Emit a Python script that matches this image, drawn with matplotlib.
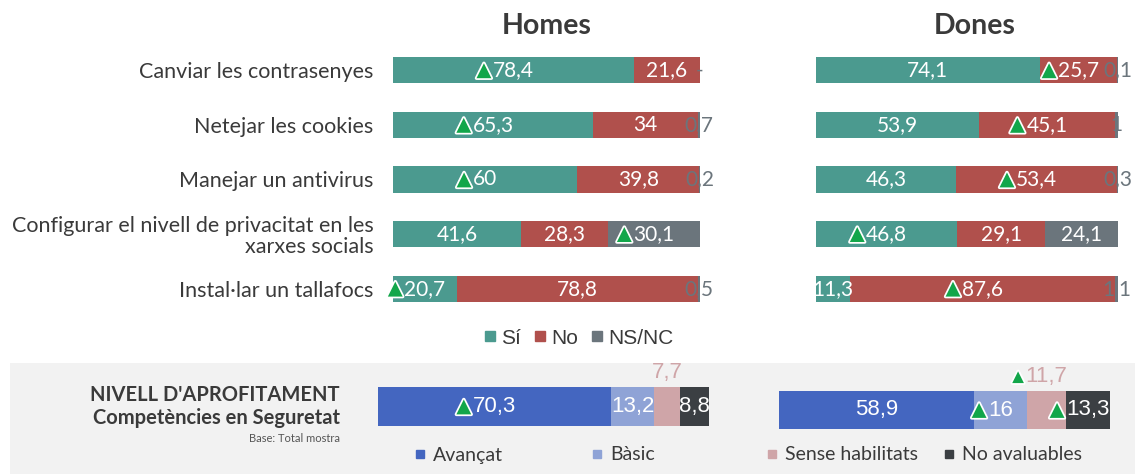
import matplotlib
matplotlib.use("Agg")
import matplotlib.pyplot as plt
import matplotlib.patheffects as pe
from matplotlib.patches import Rectangle
from matplotlib.lines import Line2D
import numpy as np

plt.rcParams['font.family'] = ['Lato', 'DejaVu Sans']

# dades
categories = ["Canviar les contrasenyes", "Netejar les cookies", "Manejar un antivirus",
              "Configurar el nivell de privacitat en les\nxarxes socials", "Instal·lar un tallafocs"]
series = ["Sí", "No", "NS/NC"]
homes_si = [78.4, 65.3, 60, 41.6, 20.7]
homes_no = [21.6, 34, 39.8, 28.3, 78.8]
homes_ns = [0, 0.7, 0.2, 30.1, 0.5]
dones_si = [74.1, 53.9, 46.3, 46.8, 11.3]
dones_no = [25.7, 45.1, 53.4, 29.1, 87.6]
dones_ns = [0.1, 1, 0.3, 24.1, 1.1]
# marca de diferencia significativa (serie, fila)
homes_sig = [(0, 0), (0, 1), (0, 2), (0, 4), (2, 3)]
dones_sig = [(1, 0), (1, 1), (1, 2), (1, 4), (0, 3)]

nivells = ["Avançat", "Bàsic", "Sense habilitats", "No avaluables"]
nivell_homes = [70.3, 13.2, 7.7, 8.8]
nivell_dones = [58.9, 16, 11.7, 13.3]
nivell_homes_sig = [0]
nivell_dones_sig = [1, 2, 3]

top_colors = ["#4b9a8f", "#b0504c", "#6b757c"]
bot_colors = ["#4466c0", "#8fa3d6", "#cfa5a8", "#3b3f43"]
txt_col = "#3a3a3a"

W, H = 1135, 474
fig = plt.figure(figsize=(W / 100, H / 100), dpi=100)

def px_axes(x0, y0, x1, y1):
    return fig.add_axes([x0 / W, 1 - y1 / H, (x1 - x0) / W, (y1 - y0) / H])

# panell gris inferior
fig.patches.append(Rectangle((10 / W, 0), 1, (H - 363) / H, transform=fig.transFigure,
                             facecolor="#f2f2f2", edgecolor="none", zorder=-10))

def fmt(v):
    if v == 0:
        return "-"
    s = ("%.1f" % v).rstrip("0").rstrip(".")
    return s.replace(".", ",")

def triangle(ax, txt, small=False):
    t = ax.annotate("▲", xy=(0, 0.5), xycoords=txt, xytext=(-1, 0), textcoords="offset points",
                    ha="right", va="center", color="#12a64a", fontsize=14 if not small else 11,
                    family="DejaVu Sans")
    t.set_path_effects([pe.withStroke(linewidth=2.5, foreground="white")])

def top_panel(ax, data, sig, show_labels):
    y = np.arange(len(categories))
    left = np.zeros(len(categories))
    texts = {}
    for i, vals in enumerate(data):
        vals = np.array(vals)
        ax.barh(y, vals, left=left, height=0.48, color=top_colors[i], edgecolor="none")
        for j, v in enumerate(vals):
            c = left[j] + v / 2
            if v < 3:
                t = ax.text(c, y[j], fmt(v), ha="center", va="center", color="#6b757c", fontsize=15)
            else:
                t = ax.text(c, y[j], fmt(v), ha="center", va="center", color="white", fontsize=15)
            texts[(i, j)] = t
        left = left + vals
    for key in sig:
        triangle(ax, texts[key])
    ax.set_xlim(0, 100)
    ax.set_ylim(4.5, -0.5)
    ax.set_xticks([])
    ax.set_yticks(y)
    if show_labels:
        ax.set_yticklabels(categories, fontsize=15.5, color=txt_col, multialignment="right",
                           linespacing=1.05)
    else:
        ax.set_yticklabels([])
    ax.tick_params(axis="y", length=0, pad=14)
    for s in ax.spines.values():
        s.set_visible(False)
    ax.patch.set_alpha(0)

ax_h = px_axes(393, 43, 700, 316)
top_panel(ax_h, [homes_si, homes_no, homes_ns], homes_sig, True)
ax_d = px_axes(816, 43, 1118, 316)
top_panel(ax_d, [dones_si, dones_no, dones_ns], dones_sig, False)

fig.text(547 / W, 1 - 26 / H, "Homes", ha="center", va="center", fontsize=20.5, fontweight="bold", color=txt_col)
fig.text(975 / W, 1 - 26 / H, "Dones", ha="center", va="center", fontsize=20.5, fontweight="bold", color=txt_col)

# llegenda superior
leg_h = [Line2D([], [], marker="s", linestyle="none", markersize=7, color=c) for c in top_colors]
fig.legend(leg_h, series, loc="center", bbox_to_anchor=(577 / W, 1 - 338 / H), ncol=3, frameon=False,
           prop={"family": "Liberation Sans", "size": 15}, handletextpad=0.05, columnspacing=0.5,
           handlelength=0.9, labelcolor=txt_col)

def bottom_panel(ax, vals, sig):
    left = 0
    texts = []
    for i, v in enumerate(vals):
        ax.barh(0, v, left=left, height=1, color=bot_colors[i], edgecolor="none")
        c = left + v / 2
        if i == 2:
            t = ax.text(c, 0.6, fmt(v), ha="center", va="bottom", color="#cfa5a8", fontsize=16,
                        family="Liberation Sans")
        else:
            t = ax.text(c, 0, fmt(v), ha="center", va="center", color="white", fontsize=16,
                        family="Liberation Sans")
        texts.append(t)
        left += v
    for i in sig:
        triangle(ax, texts[i], small=(i == 2))
    ax.set_xlim(0, 100)
    ax.set_ylim(-0.5, 0.5)
    ax.axis("off")

ax_hb = px_axes(378, 387, 709, 426)
bottom_panel(ax_hb, nivell_homes, nivell_homes_sig)
ax_db = px_axes(779, 391, 1110, 429)
bottom_panel(ax_db, nivell_dones, nivell_dones_sig)

fig.text(340 / W, 1 - 395 / H, "NIVELL D'APROFITAMENT", ha="right", va="center", fontsize=14.5,
         fontweight="bold", color=txt_col)
fig.text(340 / W, 1 - 418 / H, "Competències en Seguretat", ha="right", va="center", fontsize=14.5,
         fontweight="bold", color=txt_col)
fig.text(340 / W, 1 - 439 / H, "Base: Total mostra", ha="right", va="center", fontsize=8, color="#555555")

# llegenda inferior
leg_x = [412, 589, 764, 941]
for name, c, x in zip(nivells, bot_colors, leg_x):
    h = Line2D([], [], marker="s", linestyle="none", markersize=6, color=c)
    fig.legend([h], [name], loc="center left", bbox_to_anchor=(x / W, 1 - 455 / H), frameon=False,
               fontsize=14, handletextpad=0.3, handlelength=0.8, labelcolor=txt_col, borderpad=0,
               borderaxespad=0)

fig.savefig("out.png", dpi=100)
